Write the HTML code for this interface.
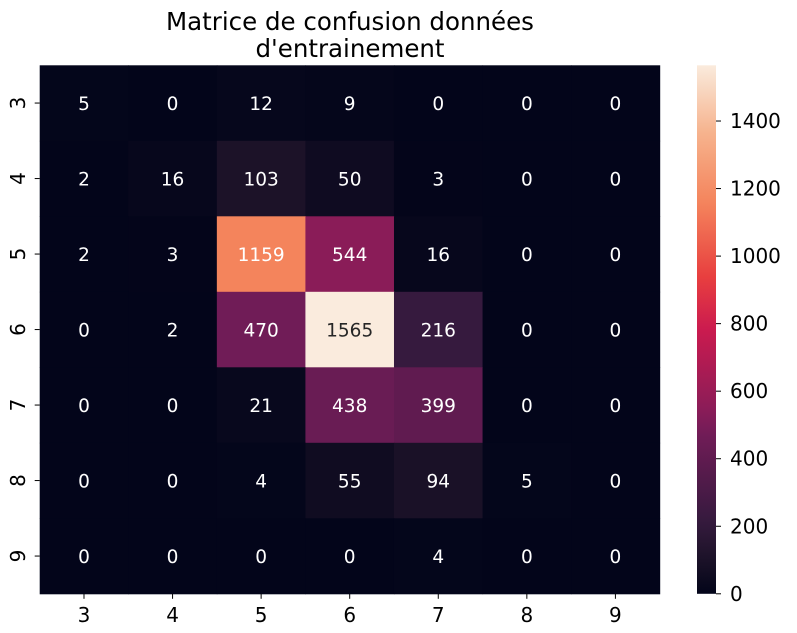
<!DOCTYPE html>
<html><head><meta charset="utf-8"><style>
body{margin:0;background:#fff;}
svg{display:block;font-family:"DejaVu Sans","Liberation Sans",sans-serif;}
</style></head><body>
<svg id="c" width="797" height="633">
<text x="350" y="30" font-size="24.5" text-anchor="middle">Matrice de confusion données</text>
<text x="350" y="57" font-size="24.5" text-anchor="middle">d'entrainement</text>
<g id="cells"></g><g id="cbar"></g>
</svg>
<script>
const xLabels=["3","4","5","6","7","8","9"];
const yLabels=["3","4","5","6","7","8","9"];
const row3=[5,0,12,9,0,0,0];
const row4=[2,16,103,50,3,0,0];
const row5=[2,3,1159,544,16,0,0];
const row6=[0,2,470,1565,216,0,0];
const row7=[0,0,21,438,399,0,0];
const row8=[0,0,4,55,94,5,0];
const row9=[0,0,0,0,4,0,0];
const matrix=[row3,row4,row5,row6,row7,row8,row9];
const cbarTicks=[0,200,400,600,800,1000,1200,1400];

const NS="http://www.w3.org/2000/svg";
const L=39.7,T=65.3,W=620,H=528.5;
const cw=W/xLabels.length,ch=H/yLabels.length;
const vmax=Math.max(...matrix.flat()),vmin=0;
const stops=[[0,[3,5,26]],[0.066,[28,18,40]],[0.138,[54,26,62]],[0.3,[112,28,87]],[0.348,[138,28,88]],[0.5,[203,27,79]],[0.6,[232,63,63]],[0.74,[244,132,92]],[0.87,[246,178,140]],[1,[250,235,221]]];
function cmap(t){t=Math.max(0,Math.min(1,t));for(let i=1;i<stops.length;i++){if(t<=stops[i][0]){const a=stops[i-1],b=stops[i];const f=(t-a[0])/(b[0]-a[0]);return a[1].map((v,k)=>Math.round(v+(b[1][k]-v)*f));}}return stops[stops.length-1][1];}
function lum(c){const l=c.map(v=>{v/=255;return v<=0.03928?v/12.92:Math.pow((v+0.055)/1.055,2.4)});return 0.2126*l[0]+0.7152*l[1]+0.0722*l[2];}
const xs=i=>L+i*cw, ys=j=>T+j*ch;
const g=document.getElementById('cells');
function mk(tag,attrs,parent){const e=document.createElementNS(NS,tag);for(const k in attrs)e.setAttribute(k,attrs[k]);parent.appendChild(e);return e;}
matrix.forEach((row,j)=>row.forEach((v,i)=>{
  const c=cmap((v-vmin)/(vmax-vmin));
  const r=mk('rect',{x:xs(i),y:ys(j),width:cw+0.5,height:ch+0.5,fill:`rgb(${c})`},g);
  
  
  const t=mk('text',{x:xs(i)+cw/2,y:ys(j)+ch/2+7,'font-size':18.5,'text-anchor':'middle',fill:lum(c)>0.5?'#262626':'#fff'},g);
  t.textContent=v;
  
  
}));
xLabels.forEach((lab,i)=>{
  mk('line',{x1:xs(i)+cw/2,x2:xs(i)+cw/2,y1:T+H,y2:T+H+5,stroke:'#000'},g);
  const t=mk('text',{x:xs(i)+cw/2,y:T+H+28,'font-size':20,'text-anchor':'middle'},g);
  t.textContent=lab;
  
  
});
yLabels.forEach((lab,j)=>{
  const cy=ys(j)+ch/2;
  mk('line',{x1:L-5,x2:L,y1:cy,y2:cy,stroke:'#000'},g);
  const t=mk('text',{x:0,y:0,'font-size':20,'text-anchor':'middle',transform:`translate(25,${cy}) rotate(-90)`},g);
  t.textContent=lab;
  
  
});
const cb=document.getElementById('cbar');
const CX=697,CW=19;
const defs=mk('defs',{},cb);
const grad=mk('linearGradient',{id:'gr',x1:0,y1:1,x2:0,y2:0},defs);
for(let k=0;k<=40;k++){const c=cmap(k/40);mk('stop',{offset:k/40,'stop-color':`rgb(${c})`},grad);}
const cr=mk('rect',{x:CX,y:T,width:CW,height:H,fill:'url(#gr)'},cb);


const cy=v=>T+H-(v-vmin)/(vmax-vmin)*H;
cbarTicks.forEach(v=>{
  mk('line',{x1:CX+CW,x2:CX+CW+5,y1:cy(v),y2:cy(v),stroke:'#000'},cb);
  const t=mk('text',{x:CX+CW+14,y:cy(v)+7,'font-size':20},cb);
  t.textContent=v;
  
  
});
</script>
</body></html>
